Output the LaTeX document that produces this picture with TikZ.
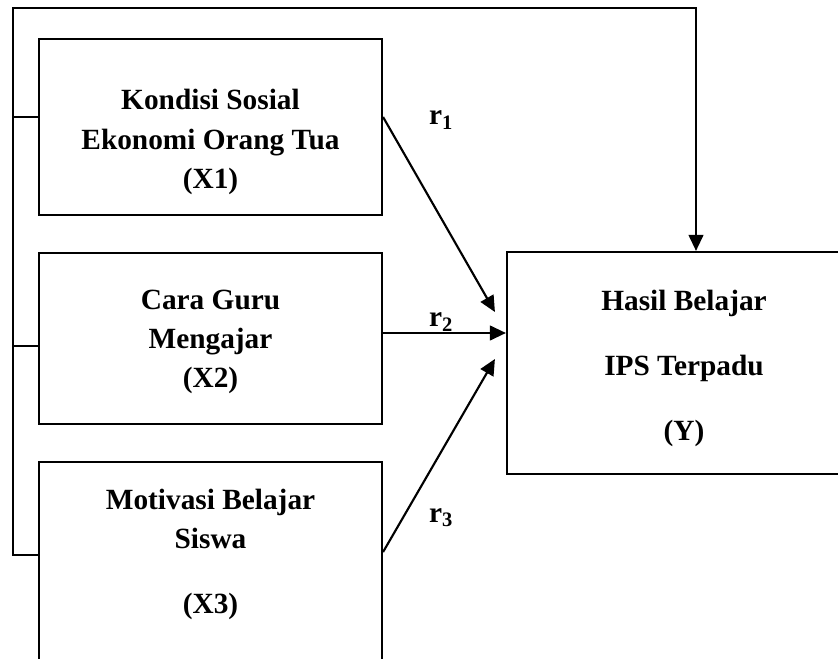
\documentclass[tikz,border=0pt]{standalone}
\usepackage{fontspec}
\setmainfont{Liberation Serif}
\usetikzlibrary{arrows.meta,calc}

\begin{document}
\begin{tikzpicture}[x=0.75pt,y=-0.75pt,line width=1.6pt,
    font=\bfseries\fontsize{22}{29.5}\selectfont,
    box/.style={draw,rectangle,inner sep=0pt},
    txt/.style={align=center,inner sep=0pt},
    arr/.style={-{Triangle[length=12pt,width=11pt]}}]
    \useasboundingbox (0,0) rectangle (838,659);
    \clip (0,0) rectangle (838,659);
    % variable boxes
    \node[box,minimum width=257.25pt,minimum height=132pt] (x1) at (210.5,127) {};
    \node[box,minimum width=257.25pt,minimum height=128.25pt] (x2) at (210.5,338.5) {};
    \node[box,minimum width=257.25pt,minimum height=178.5pt] (x3) at (210.5,581) {};
    \node[box,minimum width=265.5pt,minimum height=166.5pt] (y) at (684,363) {};
    % texts
    \node[txt] (x1t) at (210.5,142) {Kondisi Sosial\\Ekonomi Orang Tua\\(X1)};
    \node[txt] (x2t) at (210.5,342) {Cara Guru\\Mengajar\\(X2)};
    \node[txt] (x3t) at (210.5,554.5) {Motivasi Belajar\\Siswa\\[19pt](X3)};
    \node[txt,font=\bfseries\fontsize{22}{48.75}\selectfont] (yt) at (684,368) {Hasil Belajar\\IPS Terpadu\\(Y)};
    \node (r1) at (441,120) {r\textsubscript{1}};
    \node (r2) at (441,322) {r\textsubscript{2}};
    \node (r3) at (441,518) {r\textsubscript{3}};
    % joint path
    \draw ($(x1.west)+(0,-10)$) -- ++(-26,0);
    \draw ($(x2.west)+(0,7.5)$) -- ++(-26,0);
    \draw[arr] ($(x3.west)+(0,-26)$) -| (13,8) -| ($(y.north)+(12,0)$);
    % partial paths
    \draw[arr] ($(x1.east)+(0,-10)$) -- ($(y.west)+(-11,-51)$);
    \draw[arr] ($(x2.east)+(0,-5.5)$) -- ($(y.west)+(0,-30)$);
    \draw[arr] ($(x3.east)+(0,-29)$) -- ($(y.west)+(-11,-4)$);
\end{tikzpicture}
\end{document}
